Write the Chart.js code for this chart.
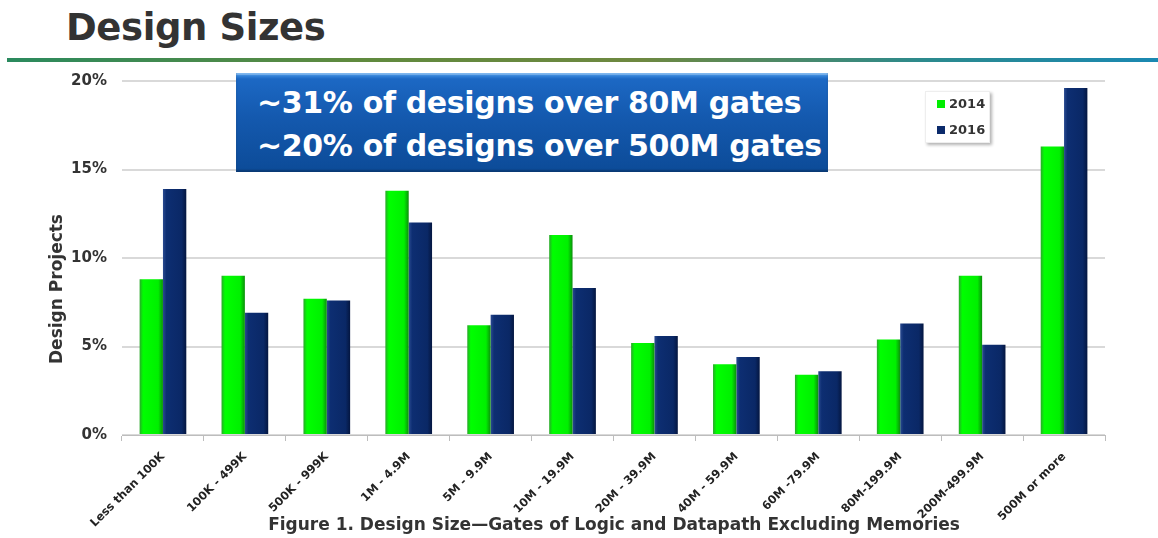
<!DOCTYPE html>
<html>
<head>
<meta charset="utf-8">
<script src="https://cdn.jsdelivr.net/npm/chart.js@4/dist/chart.umd.min.js"></script>
<style>
  html, body { margin: 0; padding: 0; background: #fff; }
  #page { position: relative; width: 1158px; height: 538px; overflow: hidden; font-family: "DejaVu Sans", sans-serif; }
  #title { position: absolute; left: 66px; top: 6px; font-size: 37px; font-weight: bold; color: #333; letter-spacing: -0.4px; }
  #rule { position: absolute; left: 7px; top: 58px; width: 1151px; height: 4px;
          background: linear-gradient(to right, #2a8a5e 0%, #5f8a3e 30%, #6e8840 55%, #2b8a8e 80%, #1a88b2 100%); }
  #chart { position: absolute; left: 0; top: 0; }
  #callout { position: absolute; left: 236px; top: 73px; width: 592px; height: 99px; box-sizing: border-box;
             background: linear-gradient(#4b9ceb 0%, #1c68c4 6%, #1459ae 45%, #0c4b98 100%);
             box-shadow: inset 0 -2px 2px rgba(0,0,0,0.25), inset 0 2px 1px rgba(255,255,255,0.3);
             color: #fff; font-weight: bold; font-size: 30px; line-height: 43px; padding: 8px 0 0 21px; white-space: nowrap; letter-spacing: -0.35px; }
  #legend { position: absolute; left: 925px; top: 91px; width: 65px; height: 52px; background: #fff;
            box-shadow: 2px 2px 3px rgba(0,0,0,0.3); border: 1px solid #eee; box-sizing: border-box; }
  .item { position: absolute; left: 11px; font-size: 13px; font-weight: bold; color: #333; }
  .item span { display: inline-block; width: 8px; height: 8px; margin-right: 4px; vertical-align: 0px; }
  #caption { position: absolute; left: 0; width: 1228px; top: 514px; text-align: center; font-size: 17px; font-weight: bold; color: #333; }
</style>
</head>
<body>
<div id="page">
  <div id="title">Design Sizes</div>
  <div id="rule"></div>
  <canvas id="chart" width="1158" height="538"></canvas>
  <div id="callout">~31% of designs over 80M gates<br>~20% of designs over 500M gates</div>
  <div id="legend"></div>
  <div id="caption">Figure 1. Design Size—Gates of Logic and Datapath Excluding Memories</div>
</div>
<script>
const categories = ["Less than 100K", "100K - 499K", "500K - 999K", "1M - 4.9M", "5M - 9.9M", "10M - 19.9M",
  "20M - 39.9M", "40M - 59.9M", "60M -79.9M", "80M-199.9M", "200M-499.9M", "500M or more"]
const values2014 = [8.8, 9.0, 7.7, 13.8, 6.2, 11.3, 5.2, 4.0, 3.4, 5.4, 9.0, 16.3]
const values2016 = [13.9, 6.9, 7.6, 12.0, 6.8, 8.3, 5.6, 4.4, 3.6, 6.3, 5.1, 19.6]
const yTicks = [0, 5, 10, 15, 20]
const yTitle = "Design Projects"

const seriesColors = [
  { label: "2014", solid: "#00ee00", stops: ["#2aa82a", "#00ff00", "#00f000", "#0b8f0b"] },
  { label: "2016", solid: "#0b2a6b", stops: ["#2a4a90", "#0d2e72", "#0a2866", "#041640"] },
]

// bevelled look: horizontal gradient per bar, built once the bars have their geometry
const bevelPlugin = {
  id: "bevel",
  beforeDatasetsDraw(chart) {
    const ctx = chart.ctx
    chart.data.datasets.forEach((ds, i) => {
      const stops = seriesColors[i].stops
      chart.getDatasetMeta(i).data.forEach((bar) => {
        const left = bar.x - bar.width / 2
        const g = ctx.createLinearGradient(left, 0, left + bar.width, 0)
        g.addColorStop(0, stops[0])
        g.addColorStop(0.15, stops[1])
        g.addColorStop(0.8, stops[2])
        g.addColorStop(1, stops[3])
        bar.options = Object.assign({}, bar.options, { backgroundColor: g })
      })
    })
  },
}

// y-axis title sits a bit below the middle of the plot, so it is drawn by hand
const yTitlePlugin = {
  id: "yTitle",
  afterDraw(chart) {
    const ctx = chart.ctx
    ctx.save()
    ctx.translate(58, 289)
    ctx.rotate(-Math.PI / 2)
    ctx.font = "bold 17px 'DejaVu Sans'"
    ctx.fillStyle = "#333"
    ctx.textAlign = "center"
    ctx.textBaseline = "middle"
    ctx.fillText(yTitle, 0, 0)
    ctx.restore()
  },
}

const chart = new Chart(document.getElementById("chart"), {
  type: "bar",
  data: {
    labels: categories,
    datasets: [
      // scriptable colour so every bar gets its own options object
      { label: "2014", data: values2014, backgroundColor: () => seriesColors[0].solid },
      { label: "2016", data: values2016, backgroundColor: () => seriesColors[1].solid },
    ],
  },
  options: {
    responsive: false,
    animation: false,
    barPercentage: 1,
    categoryPercentage: 0.57,
    layout: { padding: { top: 81, right: 53, left: 0, bottom: 0 } },
    plugins: { legend: { display: false }, tooltip: { enabled: false } },
    scales: {
      x: {
        grid: { drawOnChartArea: false, drawTicks: true, tickLength: 6, color: "#bdbdbd", offset: true },
        border: { color: "#bdbdbd", width: 1 },
        ticks: {
          minRotation: 45, maxRotation: 45, padding: 9, color: "#222",
          font: { family: "DejaVu Sans", size: 11.5, weight: "bold" },
        },
        afterFit(scale) { scale.height = 103 },
      },
      y: {
        min: 0, max: 20,
        afterBuildTicks(scale) { scale.ticks = yTicks.map((v) => ({ value: v })) },
        grid: { color: "#d9d9d9", lineWidth: 2, drawTicks: false },
        border: { display: false },
        ticks: {
          padding: 15, color: "#333",
          font: { family: "DejaVu Sans", size: 15, weight: "bold" },
          callback: (v) => v + "%",
        },
        afterFit(scale) { scale.width = 122 },
      },
    },
  },
  plugins: [bevelPlugin, yTitlePlugin],
})

// legend built from the datasets
const legend = document.getElementById("legend")
chart.data.datasets.forEach((ds, i) => {
  const item = document.createElement("div")
  item.className = "item"
  item.style.top = (i === 0 ? 4 : 30) + "px"
  item.innerHTML = `<span style="background:${seriesColors[i].solid}"></span>${ds.label}`
  legend.appendChild(item)
})
</script>
</body>
</html>
